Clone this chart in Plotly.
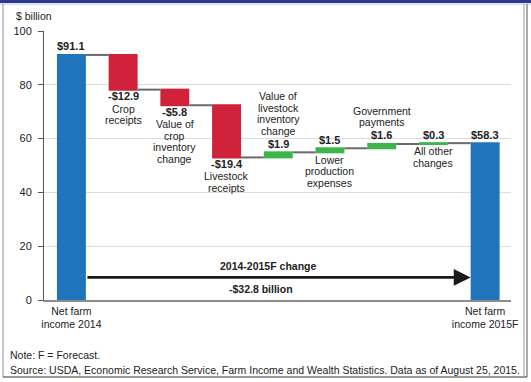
import plotly.graph_objects as go

# ---------------- data ----------------
categories = ["Net farm income 2014", "Crop receipts", "Value of crop inventory change",
              "Livestock receipts", "Value of livestock inventory change",
              "Lower production expenses", "Government payments", "All other changes",
              "Net farm income 2015F"]
values = [91.1, -12.9, -5.8, -19.4, 1.9, 1.5, 1.6, 0.3, 58.3]
measures = ["absolute", "relative", "relative", "relative", "relative",
            "relative", "relative", "relative", "total"]
value_labels = ["$91.1", "-$12.9", "-$5.8", "-$19.4", "$1.9", "$1.5", "$1.6", "$0.3", "$58.3"]
label_lines = [[], ["Crop", "receipts"], ["Value of", "crop", "inventory", "change"],
               ["Livestock", "receipts"], ["Value of", "livestock", "inventory", "change"],
               ["Lower", "production", "expenses"], ["Government", "payments"],
               ["All other", "changes"], []]
label_side = ["", "below", "below", "below", "above", "below", "above", "below", ""]
tick_labels = ["Net farm<br>income 2014", "Net farm<br>income 2015F"]
change_title = "2014-2015F change"
y_ticks = [0, 20, 40, 60, 80, 100]

# ---------------- geometry / style ----------------
W, H = 531, 382
L, R, T, B = 44, 20, 31, 82
PW, PH = W - L - R, H - T - B
BAR_W = 0.56

def px_x(p):
    return (p - L) / PW

def px_y(p):
    return (H - B - p) / PH

BLUE = "#1f74bb"
RED = "#d0223a"
GREEN = "#3db54a"
TXT = "#222222"
FONT = "Liberation Sans, Arial, sans-serif"

x = list(range(len(values)))

fig = go.Figure(go.Waterfall(
    x=x, y=values, measure=measures,
    increasing=dict(marker=dict(color=GREEN)),
    decreasing=dict(marker=dict(color=RED)),
    totals=dict(marker=dict(color=BLUE)),
    connector=dict(line=dict(color="#6a6a6a", width=2)),
    textinfo="none", hoverinfo="skip",
))

# compute levels
ann = []
level = 0.0
for i, (v, m) in enumerate(zip(values, measures)):
    if m == "absolute":
        start, end = 0.0, v
    elif m == "total":
        start, end = 0.0, level
    else:
        start, end = level, level + v
    level = end
    top, bot = max(start, end), min(start, end)
    dec = (m == "relative" and v < 0)
    if dec:
        vy, vshift = bot, -6.5
    else:
        vy, vshift = top, 8.5
    ann.append(dict(x=i, y=vy, yshift=vshift, text="<b>%s</b>" % value_labels[i],
                    showarrow=False, yanchor="middle", xanchor="center",
                    font=dict(size=11, color=TXT, family=FONT)))
    lines = label_lines[i]
    n = len(lines)
    for k, ln in enumerate(lines):
        if label_side[i] == "above":
            y0, s = vy, vshift + 13 + 11.5 * (n - 1 - k)
        elif dec:
            y0, s = vy, vshift - 12.5 - 11.5 * k
        else:
            y0, s = bot, -7.5 - 11.5 * k
        ann.append(dict(x=i, y=y0, yshift=s, text=ln, showarrow=False,
                        yanchor="middle", xanchor="center",
                        font=dict(size=10.5, color=TXT, family=FONT)))

# change arrow
change = values[-1] - values[0]
arrow_y = 8.4
ann.append(dict(x=x[-1] - BAR_W / 2, y=arrow_y, ax=x[0] + BAR_W / 2, ay=arrow_y,
                axref="x", ayref="y", xref="x", yref="y", showarrow=True,
                arrowhead=2, arrowsize=1.3, arrowwidth=2.6, arrowcolor="#1a1a1a",
                standoff=0, startstandoff=0, text=""))
ann.append(dict(x=3.8, y=arrow_y, yshift=11.5, text="<b>%s</b>" % change_title,
                showarrow=False, font=dict(size=10.5, color=TXT, family=FONT)))
ann.append(dict(x=3.67, y=arrow_y, yshift=-11.5,
                text="<b>-$%.1f billion</b>" % abs(change),
                showarrow=False, font=dict(size=10.5, color=TXT, family=FONT)))

# titles / notes
ann.append(dict(xref="paper", yref="paper", x=px_x(14), y=px_y(16), text="$ billion",
                showarrow=False, xanchor="left", yanchor="middle",
                font=dict(size=10.5, color=TXT, family=FONT)))
ann.append(dict(xref="paper", yref="paper", x=px_x(8), y=px_y(355), text="Note: F = Forecast.",
                showarrow=False, xanchor="left", yanchor="middle",
                font=dict(size=10.5, color=TXT, family=FONT)))
ann.append(dict(xref="paper", yref="paper", x=px_x(8), y=px_y(370),
                text="Source: USDA, Economic Research Service, Farm Income and Wealth Statistics. Data as of August 25, 2015.",
                showarrow=False, xanchor="left", yanchor="middle",
                font=dict(size=10.5, color=TXT, family=FONT)))

# frame
shapes = [
    dict(type="rect", xref="paper", yref="paper", x0=px_x(0), x1=px_x(W), y0=px_y(0), y1=px_y(3),
         line=dict(width=0), fillcolor="#2b3a8c", layer="above"),
    dict(type="line", xref="paper", yref="paper", x0=px_x(0), x1=px_x(W), y0=px_y(4), y1=px_y(4),
         line=dict(color="#b9c4e4", width=1)),
    dict(type="line", xref="paper", yref="paper", x0=px_x(3), x1=px_x(3), y0=px_y(4), y1=px_y(377),
         line=dict(color="#8a8f99", width=1)),
    dict(type="line", xref="paper", yref="paper", x0=px_x(3), x1=px_x(527), y0=px_y(377), y1=px_y(377),
         line=dict(color="#333333", width=1)),
    dict(type="line", xref="paper", yref="paper", x0=px_x(524), x1=px_x(524), y0=px_y(4), y1=px_y(377),
         line=dict(color="#9a9a9a", width=1)),
    dict(type="line", xref="paper", yref="paper", x0=px_x(527), x1=px_x(527), y0=px_y(4), y1=px_y(377),
         line=dict(color="#555555", width=1)),
]

fig.update_layout(
    width=W, height=H, margin=dict(l=L, r=R, t=T, b=B, autoexpand=False),
    paper_bgcolor="white", plot_bgcolor="white",
    showlegend=False, waterfallgap=1 - BAR_W,
    annotations=ann, shapes=shapes,
    font=dict(family=FONT, color=TXT),
)
fig.update_xaxes(range=[-0.53, 8.5], tickvals=[x[0], x[-1]], ticktext=tick_labels,
                 showgrid=False, zeroline=False, showline=True, linecolor="#8c8c8c",
                 linewidth=2, ticks="", tickfont=dict(size=10.5, color=TXT, family=FONT))
fig.update_yaxes(range=[0, 100], tickvals=y_ticks, showgrid=True, gridcolor="#dcdcdc",
                 gridwidth=1, zeroline=False, showline=True, linecolor="#555555", linewidth=1,
                 ticks="outside", ticklen=5, tickcolor="#555555", ticklabelstandoff=4,
                 tickfont=dict(size=11, color=TXT, family=FONT))

fig.write_html("out.html", config={"displayModeBar": False},
               post_script="document.body.style.margin='0';document.body.style.overflow='hidden';")
